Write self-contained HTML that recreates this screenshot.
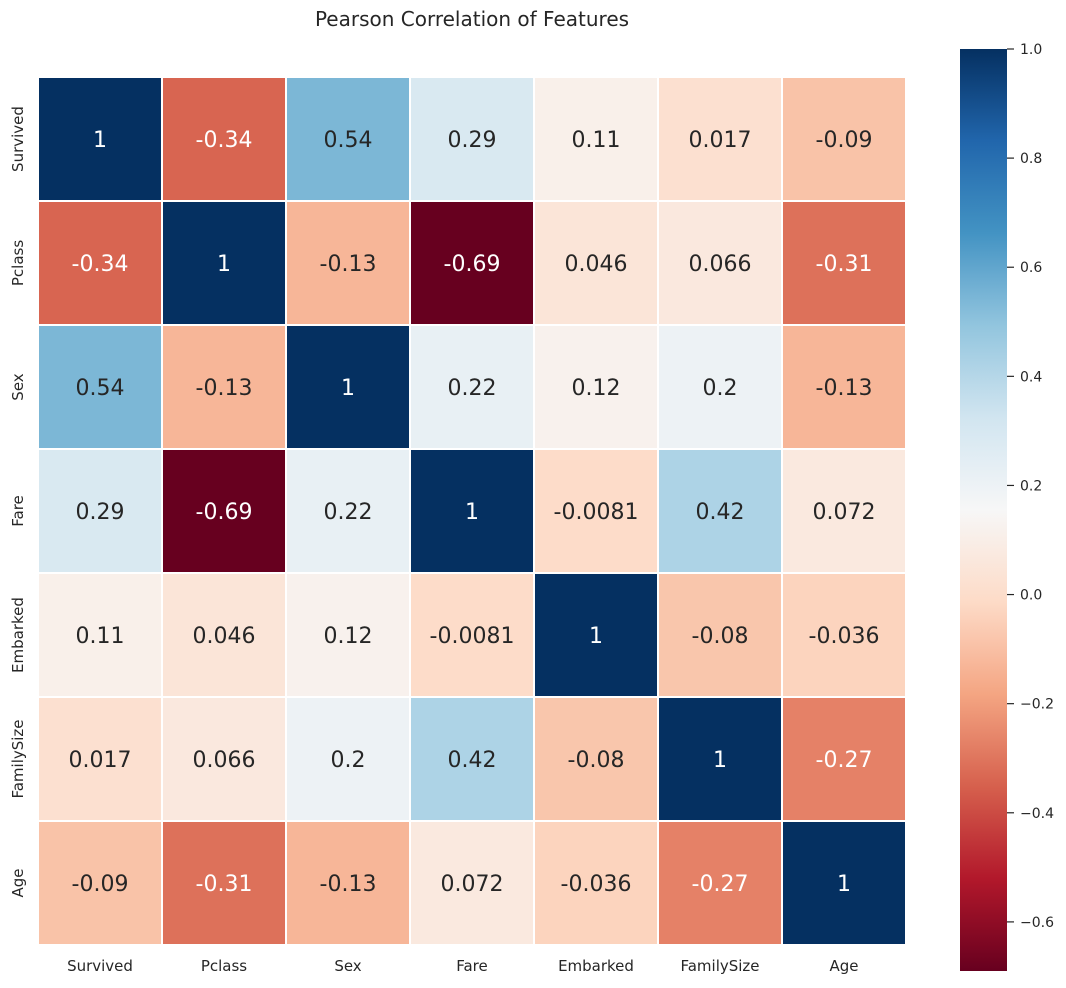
<!DOCTYPE html>
<html><head><meta charset="utf-8">
<style>
html,body{margin:0;padding:0;background:#fff;}
svg text{font-family:"DejaVu Sans","Liberation Sans",sans-serif;}
</style></head>
<body>
<svg id="chart" width="1066" height="983" viewBox="0 0 1066 983" xmlns="http://www.w3.org/2000/svg">
<defs>
<linearGradient id="cbgrad" x1="0" y1="1" x2="0" y2="0"></linearGradient>
</defs>
<text x="472" y="26" font-size="20" fill="#262626" text-anchor="middle">Pearson Correlation of Features</text>
<g id="cells"></g>
<g id="labels"></g>
<rect x="960" y="49" width="47" height="922" fill="url(#cbgrad)"/>
<g id="cbticks"></g>
</svg>
<script>
const features = ["Survived","Pclass","Sex","Fare","Embarked","FamilySize","Age"];
const row0 = [1, -0.34, 0.54, 0.29, 0.11, 0.017, -0.09];
const row1 = [-0.34, 1, -0.13, -0.69, 0.046, 0.066, -0.31];
const row2 = [0.54, -0.13, 1, 0.22, 0.12, 0.2, -0.13];
const row3 = [0.29, -0.69, 0.22, 1, -0.0081, 0.42, 0.072];
const row4 = [0.11, 0.046, 0.12, -0.0081, 1, -0.08, -0.036];
const row5 = [0.017, 0.066, 0.2, 0.42, -0.08, 1, -0.27];
const row6 = [-0.09, -0.31, -0.13, 0.072, -0.036, -0.27, 1];
const matrix = [row0,row1,row2,row3,row4,row5,row6];
const cbTicks = [-0.6,-0.4,-0.2,0.0,0.2,0.4,0.6,0.8,1.0];
const vmin = -0.69, vmax = 1.0;

const NS = "http://www.w3.org/2000/svg";
const rdbu = ["#67001f","#b2182b","#d6604d","#f4a582","#fddbc7","#f7f7f7","#d1e5f0","#92c5de","#4393c3","#2166ac","#053061"];
function hex(h){return [1,3,5].map(i=>parseInt(h.substr(i,2),16));}
function cmap(v){
  let t=(v-vmin)/(vmax-vmin); t=Math.max(0,Math.min(1,t));
  const p=t*(rdbu.length-1); const i=Math.min(Math.floor(p),rdbu.length-2); const f=p-i;
  const a=hex(rdbu[i]), b=hex(rdbu[i+1]);
  return a.map((c,k)=>Math.round(c+(b[k]-c)*f));
}
function lum(c){const l=c.map(x=>{x/=255;return x<=0.03928?x/12.92:Math.pow((x+0.055)/1.055,2.4);});return 0.2126*l[0]+0.7152*l[1]+0.0722*l[2];}
const x0=38, y0=77, cw=124, ch=124;
const xScale=i=>x0+i*cw, yScale=j=>y0+j*ch;
const cells=document.getElementById('cells');
matrix.forEach((row,r)=>row.forEach((v,c)=>{
  const col=cmap(v);
  const rect=document.createElementNS(NS,'rect');
  rect.setAttribute('x',xScale(c));rect.setAttribute('y',yScale(r));
  rect.setAttribute('width',cw);rect.setAttribute('height',ch);
  rect.setAttribute('fill',`rgb(${col})`);rect.setAttribute('stroke','#fff');rect.setAttribute('stroke-width','2');
  
  
  cells.appendChild(rect);
  const t=document.createElementNS(NS,'text');
  t.setAttribute('x',xScale(c)+cw/2);t.setAttribute('y',yScale(r)+ch/2+8);
  t.setAttribute('text-anchor','middle');t.setAttribute('font-size','22');
  t.setAttribute('fill',lum(col)<0.408?'#ffffff':'#262626');
  t.textContent=String(v);
  
  
  cells.appendChild(t);
}));
const labels=document.getElementById('labels');
features.forEach((f,i)=>{
  const tx=document.createElementNS(NS,'text');
  tx.setAttribute('x',xScale(i)+cw/2);tx.setAttribute('y',971);
  tx.setAttribute('text-anchor','middle');tx.setAttribute('font-size','15');tx.setAttribute('fill','#262626');
  tx.textContent=f;
  
  
  labels.appendChild(tx);
  const ty=document.createElementNS(NS,'text');
  const cy=yScale(i)+ch/2;
  ty.setAttribute('transform',`translate(23,${cy}) rotate(-90)`);
  ty.setAttribute('text-anchor','middle');ty.setAttribute('font-size','15');ty.setAttribute('fill','#262626');
  ty.textContent=f;
  
  
  labels.appendChild(ty);
});
const grad=document.getElementById('cbgrad');
for(let k=0;k<=20;k++){
  const v=vmin+(vmax-vmin)*k/20;const s=document.createElementNS(NS,'stop');
  s.setAttribute('offset',(k/20));s.setAttribute('stop-color',`rgb(${cmap(v)})`);grad.appendChild(s);
}
const cbTop=49, cbBot=971;
const cbScale=v=>cbBot-(v-vmin)/(vmax-vmin)*(cbBot-cbTop);
const cbg=document.getElementById('cbticks');
cbTicks.forEach(v=>{
  const y=cbScale(v);
  const l=document.createElementNS(NS,'line');
  l.setAttribute('x1',1007);l.setAttribute('x2',1014);l.setAttribute('y1',y);l.setAttribute('y2',y);
  l.setAttribute('stroke','#262626');l.setAttribute('stroke-width','1.2');
  
  
  cbg.appendChild(l);
  const t=document.createElementNS(NS,'text');
  t.setAttribute('x',1020);t.setAttribute('y',y+5);t.setAttribute('font-size','14');t.setAttribute('fill','#262626');
  t.textContent=(v<0?'\u2212':'')+Math.abs(v).toFixed(1);
  
  
  cbg.appendChild(t);
});
</script>
</body></html>
